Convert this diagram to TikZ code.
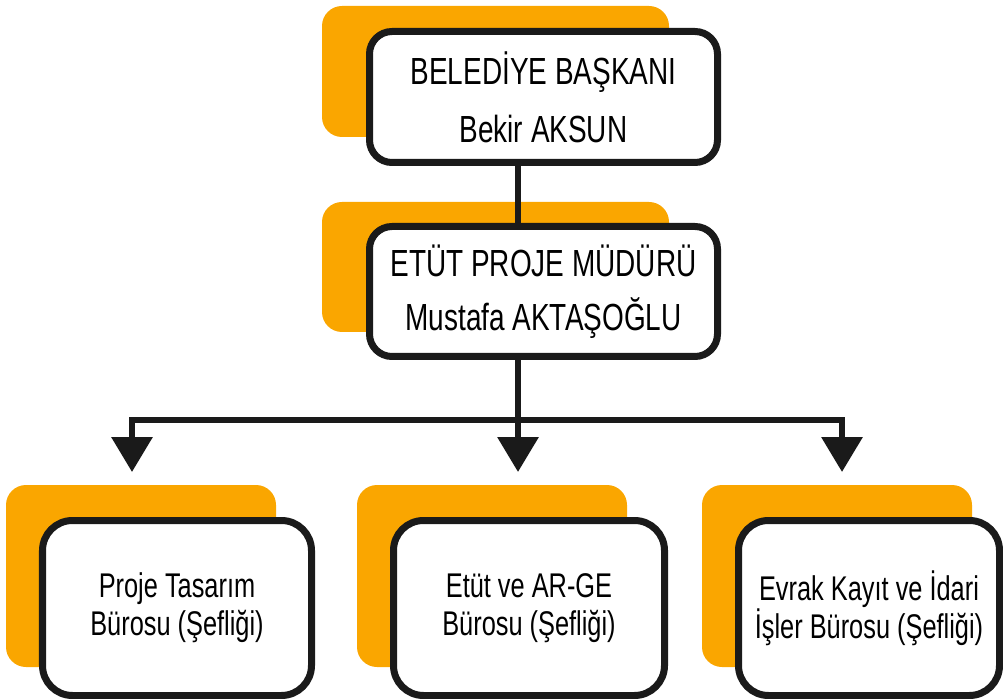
\documentclass[tikz,border=0pt]{standalone}
\usepackage{fontspec}
\setmainfont[FakeStretch=0.74]{Liberation Sans}
\usetikzlibrary{arrows.meta,backgrounds}
\definecolor{laranja}{RGB}{250,166,0}
\definecolor{preto}{RGB}{26,26,26}
\begin{document}
\begin{tikzpicture}[
    kutu/.style={draw=preto, line width=.14cm, fill=white, rounded corners=.45cm,
      align=center, inner sep=0pt, font=\fontsize{21.5}{31}\selectfont},
    altkutu/.style={kutu, rounded corners=.6cm, minimum width=#1, minimum height=3.5cm,
      font=\fontsize{19.5}{21.5}\selectfont},
    golge/.style={fill=laranja, rounded corners=.4cm},
    ok/.style={-{Triangle[width=.8cm,length=.7cm]}, line width=.13cm, draw=preto}]
    \useasboundingbox (0,0) rectangle (20.06,-13.98);
    % kutular
    \node[kutu, minimum width=6.96cm, minimum height=2.62cm,
      font=\fontsize{21.5}{33}\selectfont] (B) at (10.87,-1.94)
      {BELEDİYE BAŞKANI\\Bekir AKSUN};
    \node[kutu, minimum width=6.96cm, minimum height=2.60cm] (M) at (10.87,-5.83)
      {ETÜT PROJE MÜDÜRÜ\\Mustafa AKTAŞOĞLU};
    \node[altkutu=5.38cm] (P) at (3.54,-12.16) {Proje Tasarım\\Bürosu (Şefliği)};
    \node[altkutu=5.42cm] (E) at (10.58,-12.16) {Etüt ve AR-GE\\Bürosu (Şefliği)};
    \node[altkutu=5.22cm] (K) at (17.38,-12.16) {Evrak Kayıt ve İdari\\İşler Bürosu (Şefliği)};
    % turuncu golgeler
    \begin{scope}[on background layer]
      \node[golge, minimum width=6.94cm, minimum height=2.62cm] (Bg) at (9.91,-1.43) {};
      \node[golge, minimum width=6.94cm, minimum height=2.60cm] (Mg) at (9.91,-5.34) {};
      \node[golge, minimum width=5.4cm, minimum height=3.64cm] (Pg) at (2.82,-11.52) {};
      \node[golge, minimum width=5.4cm, minimum height=3.64cm] (Eg) at (9.84,-11.52) {};
      \node[golge, minimum width=5.4cm, minimum height=3.64cm] (Kg) at (16.74,-11.52) {};
    \end{scope}
    % baglantilar
    \coordinate (J) at (10.36,-8.40);
    \coordinate (a1) at (2.64,-9.44);
    \coordinate (a2) at (10.36,-9.44);
    \coordinate (a3) at (16.84,-9.44);
    \draw[line width=.13cm, preto] (B.south -| J) -- (M.north -| J);
    \draw[ok] (M.south -| J) -- (a2);
    \draw[ok] (J) -| (a1);
    \draw[ok] (J) -| (a3);
  \end{tikzpicture}
\end{document}
